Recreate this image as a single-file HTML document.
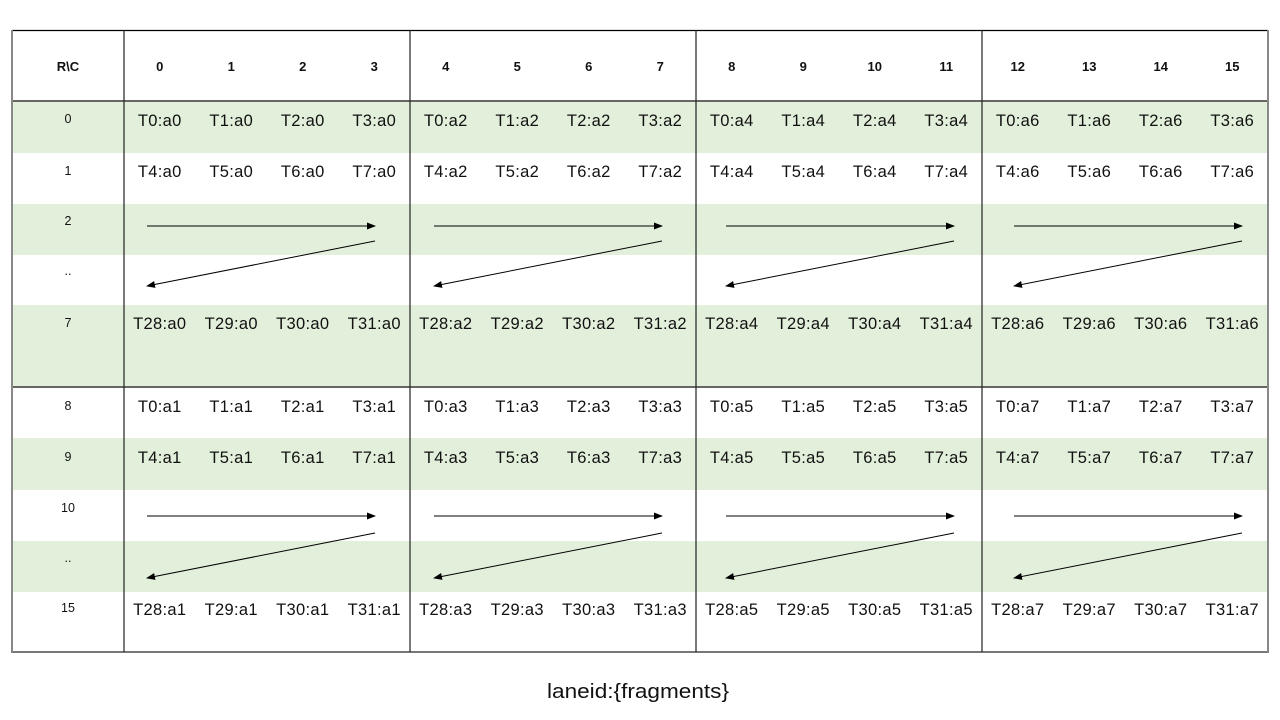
<!DOCTYPE html>
<html><head><meta charset="utf-8"><style>
html,body{margin:0;padding:0;background:#fff;}
svg{display:block;}
text{font-family:"Liberation Sans",sans-serif;fill:#111;}
.d{font-size:16.5px;text-anchor:middle;letter-spacing:0.3px;}
.h{font-size:13px;font-weight:bold;text-anchor:middle;}
.l{font-size:12.5px;text-anchor:middle;}
</style></head><body>
<svg width="1280" height="720" viewBox="0 0 1280 720" xmlns="http://www.w3.org/2000/svg">
<defs>
<marker id="ah" markerWidth="9" markerHeight="7" refX="8" refY="3.5" orient="auto" markerUnits="userSpaceOnUse">
<path d="M0,0 L9,3.5 L0,7 z" fill="#000"/>
</marker>
</defs>
<rect x="0" y="0" width="1280" height="720" fill="#fff"/>
<g fill="#E2EFDA">
<rect x="12" y="101" width="1256" height="52"/>
<rect x="12" y="204" width="1256" height="51"/>
<rect x="12" y="305" width="1256" height="82"/>
<rect x="12" y="438" width="1256" height="52"/>
<rect x="12" y="541" width="1256" height="51"/>
</g>
<line x1="12" y1="30.5" x2="1268" y2="30.5" stroke="#000" stroke-width="1.2"/>
<line x1="12" y1="101" x2="1268" y2="101" stroke="#666" stroke-width="2"/>
<line x1="12" y1="387" x2="1268" y2="387" stroke="#666" stroke-width="2"/>
<line x1="12" y1="652" x2="1268" y2="652" stroke="#777" stroke-width="2"/>
<line x1="12" y1="30" x2="12" y2="653" stroke="#888" stroke-width="2"/>
<line x1="1268" y1="30" x2="1268" y2="653" stroke="#888" stroke-width="2"/>
<g stroke="#222" stroke-width="1.2">
<line x1="124" y1="30" x2="124" y2="652"/>
<line x1="410" y1="30" x2="410" y2="652"/>
<line x1="696" y1="30" x2="696" y2="652"/>
<line x1="982" y1="30" x2="982" y2="652"/>
</g>
<text class="h" x="68" y="71">R\C</text>
<text class="h" x="159.75" y="71">0</text>
<text class="h" x="231.25" y="71">1</text>
<text class="h" x="302.75" y="71">2</text>
<text class="h" x="374.25" y="71">3</text>
<text class="h" x="445.75" y="71">4</text>
<text class="h" x="517.25" y="71">5</text>
<text class="h" x="588.75" y="71">6</text>
<text class="h" x="660.25" y="71">7</text>
<text class="h" x="731.75" y="71">8</text>
<text class="h" x="803.25" y="71">9</text>
<text class="h" x="874.75" y="71">10</text>
<text class="h" x="946.25" y="71">11</text>
<text class="h" x="1017.75" y="71">12</text>
<text class="h" x="1089.25" y="71">13</text>
<text class="h" x="1160.75" y="71">14</text>
<text class="h" x="1232.25" y="71">15</text>
<text class="l" x="68" y="123">0</text>
<text class="l" x="68" y="175">1</text>
<text class="l" x="68" y="225">2</text>
<text class="l" x="68" y="275">..</text>
<text class="l" x="68" y="327">7</text>
<text class="l" x="68" y="410">8</text>
<text class="l" x="68" y="461">9</text>
<text class="l" x="68" y="512">10</text>
<text class="l" x="68" y="562">..</text>
<text class="l" x="68" y="612">15</text>
<g>
<text class="d" x="159.75" y="126">T0:a0</text><text class="d" x="231.25" y="126">T1:a0</text><text class="d" x="302.75" y="126">T2:a0</text><text class="d" x="374.25" y="126">T3:a0</text>
<text class="d" x="445.75" y="126">T0:a2</text><text class="d" x="517.25" y="126">T1:a2</text><text class="d" x="588.75" y="126">T2:a2</text><text class="d" x="660.25" y="126">T3:a2</text>
<text class="d" x="731.75" y="126">T0:a4</text><text class="d" x="803.25" y="126">T1:a4</text><text class="d" x="874.75" y="126">T2:a4</text><text class="d" x="946.25" y="126">T3:a4</text>
<text class="d" x="1017.75" y="126">T0:a6</text><text class="d" x="1089.25" y="126">T1:a6</text><text class="d" x="1160.75" y="126">T2:a6</text><text class="d" x="1232.25" y="126">T3:a6</text>

<text class="d" x="159.75" y="177">T4:a0</text><text class="d" x="231.25" y="177">T5:a0</text><text class="d" x="302.75" y="177">T6:a0</text><text class="d" x="374.25" y="177">T7:a0</text>
<text class="d" x="445.75" y="177">T4:a2</text><text class="d" x="517.25" y="177">T5:a2</text><text class="d" x="588.75" y="177">T6:a2</text><text class="d" x="660.25" y="177">T7:a2</text>
<text class="d" x="731.75" y="177">T4:a4</text><text class="d" x="803.25" y="177">T5:a4</text><text class="d" x="874.75" y="177">T6:a4</text><text class="d" x="946.25" y="177">T7:a4</text>
<text class="d" x="1017.75" y="177">T4:a6</text><text class="d" x="1089.25" y="177">T5:a6</text><text class="d" x="1160.75" y="177">T6:a6</text><text class="d" x="1232.25" y="177">T7:a6</text>

<text class="d" x="159.75" y="329">T28:a0</text><text class="d" x="231.25" y="329">T29:a0</text><text class="d" x="302.75" y="329">T30:a0</text><text class="d" x="374.25" y="329">T31:a0</text>
<text class="d" x="445.75" y="329">T28:a2</text><text class="d" x="517.25" y="329">T29:a2</text><text class="d" x="588.75" y="329">T30:a2</text><text class="d" x="660.25" y="329">T31:a2</text>
<text class="d" x="731.75" y="329">T28:a4</text><text class="d" x="803.25" y="329">T29:a4</text><text class="d" x="874.75" y="329">T30:a4</text><text class="d" x="946.25" y="329">T31:a4</text>
<text class="d" x="1017.75" y="329">T28:a6</text><text class="d" x="1089.25" y="329">T29:a6</text><text class="d" x="1160.75" y="329">T30:a6</text><text class="d" x="1232.25" y="329">T31:a6</text>

<text class="d" x="159.75" y="412">T0:a1</text><text class="d" x="231.25" y="412">T1:a1</text><text class="d" x="302.75" y="412">T2:a1</text><text class="d" x="374.25" y="412">T3:a1</text>
<text class="d" x="445.75" y="412">T0:a3</text><text class="d" x="517.25" y="412">T1:a3</text><text class="d" x="588.75" y="412">T2:a3</text><text class="d" x="660.25" y="412">T3:a3</text>
<text class="d" x="731.75" y="412">T0:a5</text><text class="d" x="803.25" y="412">T1:a5</text><text class="d" x="874.75" y="412">T2:a5</text><text class="d" x="946.25" y="412">T3:a5</text>
<text class="d" x="1017.75" y="412">T0:a7</text><text class="d" x="1089.25" y="412">T1:a7</text><text class="d" x="1160.75" y="412">T2:a7</text><text class="d" x="1232.25" y="412">T3:a7</text>

<text class="d" x="159.75" y="463">T4:a1</text><text class="d" x="231.25" y="463">T5:a1</text><text class="d" x="302.75" y="463">T6:a1</text><text class="d" x="374.25" y="463">T7:a1</text>
<text class="d" x="445.75" y="463">T4:a3</text><text class="d" x="517.25" y="463">T5:a3</text><text class="d" x="588.75" y="463">T6:a3</text><text class="d" x="660.25" y="463">T7:a3</text>
<text class="d" x="731.75" y="463">T4:a5</text><text class="d" x="803.25" y="463">T5:a5</text><text class="d" x="874.75" y="463">T6:a5</text><text class="d" x="946.25" y="463">T7:a5</text>
<text class="d" x="1017.75" y="463">T4:a7</text><text class="d" x="1089.25" y="463">T5:a7</text><text class="d" x="1160.75" y="463">T6:a7</text><text class="d" x="1232.25" y="463">T7:a7</text>

<text class="d" x="159.75" y="615">T28:a1</text><text class="d" x="231.25" y="615">T29:a1</text><text class="d" x="302.75" y="615">T30:a1</text><text class="d" x="374.25" y="615">T31:a1</text>
<text class="d" x="445.75" y="615">T28:a3</text><text class="d" x="517.25" y="615">T29:a3</text><text class="d" x="588.75" y="615">T30:a3</text><text class="d" x="660.25" y="615">T31:a3</text>
<text class="d" x="731.75" y="615">T28:a5</text><text class="d" x="803.25" y="615">T29:a5</text><text class="d" x="874.75" y="615">T30:a5</text><text class="d" x="946.25" y="615">T31:a5</text>
<text class="d" x="1017.75" y="615">T28:a7</text><text class="d" x="1089.25" y="615">T29:a7</text><text class="d" x="1160.75" y="615">T30:a7</text><text class="d" x="1232.25" y="615">T31:a7</text>
</g>
<g stroke="#000" stroke-width="1" fill="none" marker-end="url(#ah)">
<line x1="147" y1="226" x2="375" y2="226"/><line x1="375" y1="241" x2="147" y2="286"/>
<line x1="434" y1="226" x2="662" y2="226"/><line x1="662" y1="241" x2="434" y2="286"/>
<line x1="726" y1="226" x2="954" y2="226"/><line x1="954" y1="241" x2="726" y2="286"/>
<line x1="1014" y1="226" x2="1242" y2="226"/><line x1="1242" y1="241" x2="1014" y2="286"/>
<line x1="147" y1="516" x2="375" y2="516"/><line x1="375" y1="533" x2="147" y2="578"/>
<line x1="434" y1="516" x2="662" y2="516"/><line x1="662" y1="533" x2="434" y2="578"/>
<line x1="726" y1="516" x2="954" y2="516"/><line x1="954" y1="533" x2="726" y2="578"/>
<line x1="1014" y1="516" x2="1242" y2="516"/><line x1="1242" y1="533" x2="1014" y2="578"/>
</g>
<text x="638" y="698" style="font-size:20px;text-anchor:middle;" textLength="182" lengthAdjust="spacingAndGlyphs">laneid:{fragments}</text>
</svg>
</body></html>
